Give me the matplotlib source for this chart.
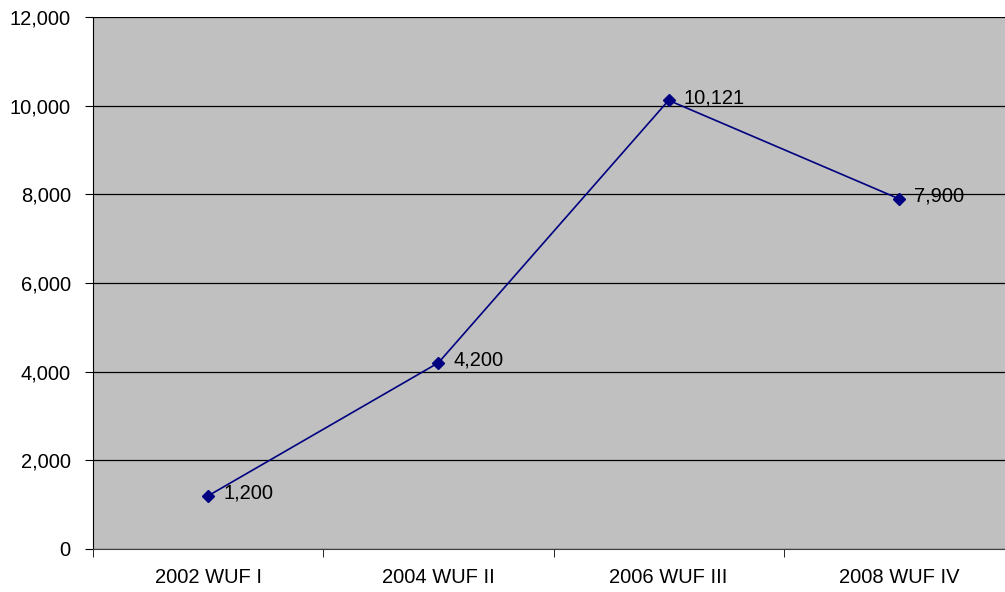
import matplotlib
matplotlib.use("Agg")
import matplotlib.pyplot as plt
from matplotlib.ticker import FuncFormatter, FixedLocator

categories = ["2002 WUF I", "2004 WUF II", "2006 WUF III", "2008 WUF IV"]
values = [1200, 4200, 10121, 7900]
yticks = [0, 2000, 4000, 6000, 8000, 10000, 12000]

plt.rcParams['font.family'] = ['Liberation Sans', 'DejaVu Sans']

W, H = 1005, 592
fig = plt.figure(figsize=(W/100, H/100), dpi=100)
left, right, top, bottom = 93, 1014, 17, 549
ax = fig.add_axes([left/W, (H-bottom)/H, (right-left)/W, (bottom-top)/H])
ax.set_facecolor('#C0C0C0')

fs = 14.5
x = list(range(len(categories)))
ax.plot(x, values, color='#000080', lw=1.2, marker='D', ms=6.5, mfc='#000080', mec='#000080', zorder=3)
for xi, v in zip(x, values):
    ax.annotate(f"{v:,}", (xi, v), xytext=(11, 2), textcoords='offset points',
                va='center', ha='left', fontsize=fs, color='black')

ax.set_xlim(-0.5, len(categories) - 0.5)
ax.set_ylim(0, 12000)
ax.set_yticks(yticks)
ax.yaxis.set_major_formatter(FuncFormatter(lambda v, p: f"{int(v):,}"))
ax.grid(axis='y', color='black', lw=0.9)
ax.set_axisbelow(True)

ax.set_xticks(x)
ax.set_xticklabels(categories, fontsize=fs)
ax.tick_params(axis='x', which='major', length=0, pad=14)
ax.xaxis.set_minor_locator(FixedLocator([i + 0.5 for i in range(-1, len(categories))]))
ax.tick_params(axis='x', which='minor', length=6, direction='out', color='black')
ax.tick_params(axis='y', length=6, direction='out', labelsize=fs, pad=10)

for s in ['top', 'right']:
    ax.spines[s].set_visible(False)
ax.spines['left'].set_color('black')
ax.spines['bottom'].set_color('#404040')

fig.savefig('out.png', dpi=100, facecolor='white')
